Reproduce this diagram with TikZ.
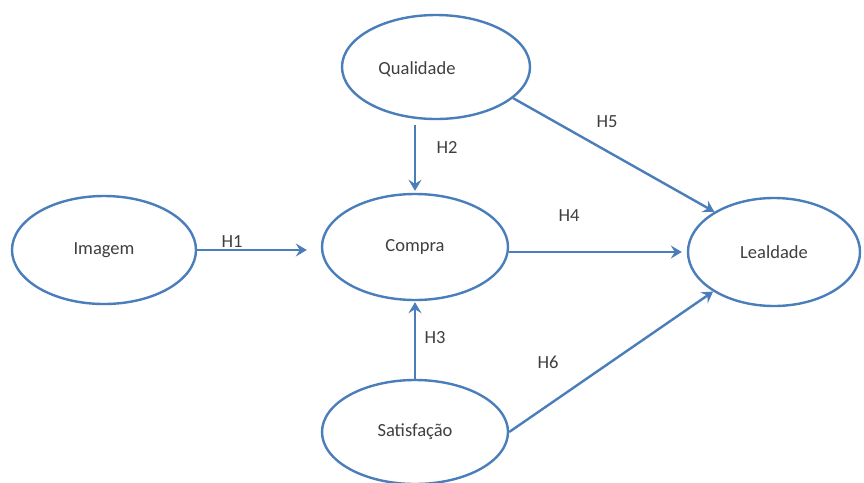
\documentclass[tikz,border=0pt]{standalone}
\usepackage{fontspec}
\setmainfont{Carlito}
\usetikzlibrary{shapes.geometric,arrows.meta}
\definecolor{lineblue}{HTML}{4A7EBB}
\definecolor{txt}{HTML}{3F3F3F}
\tikzset{
  construct/.style={ellipse, draw=lineblue, line width=2.4pt, fill=white, inner sep=0pt,
    text=txt, font=\fontsize{18.5}{20}\selectfont},
  hyp/.style={text=txt, font=\fontsize{18.5}{20}\selectfont, inner sep=0pt},
  arr/.style={draw=lineblue, line width=2.4pt, -{Stealth[length=11pt,width=13pt,inset=4pt]}}
}
\begin{document}
\begin{tikzpicture}[x=1pt,y=-1pt]
\fill[white] (0,0) rectangle (864,482);
\useasboundingbox (0,0) rectangle (864,482);
\node[construct, minimum width=188pt, minimum height=104pt] (qual) at (436,67) {};
\node[hyp] (qualt) at (417,69) {Qualidade};
\node[construct, minimum width=184pt, minimum height=108pt] (img) at (104,250) {Imagem};
\node[construct, minimum width=186pt, minimum height=106pt] (compra) at (415,247) {Compra};
\node[construct, minimum width=172pt, minimum height=108pt] (leal) at (774,252) {Lealdade};
\node[construct, minimum width=186pt, minimum height=104pt] (sat) at (415,432) {Satisfação};

\draw[arr, shorten >=14pt] (img.east) -- (compra.west |- img.east);
\draw[arr, shorten <=5pt, shorten >=2pt] (compra.north |- qual.south) -- (compra.north);
\draw[arr, shorten >=1pt] (sat.north) -- (compra.south);
\draw[arr, shorten >=5pt] (compra.east |- leal.west) -- (leal.west);
\draw[arr] (qual.-22) -- (leal.146);
\draw[arr] (sat.east) -- (leal.213);

\node[hyp] (h1) at (232,242) {H1};
\node[hyp] (h2) at (447,147) {H2};
\node[hyp] (h3) at (435,338) {H3};
\node[hyp] (h4) at (569,216) {H4};
\node[hyp] (h5) at (607,122) {H5};
\node[hyp] (h6) at (548,362) {H6};
\end{tikzpicture}
\end{document}
